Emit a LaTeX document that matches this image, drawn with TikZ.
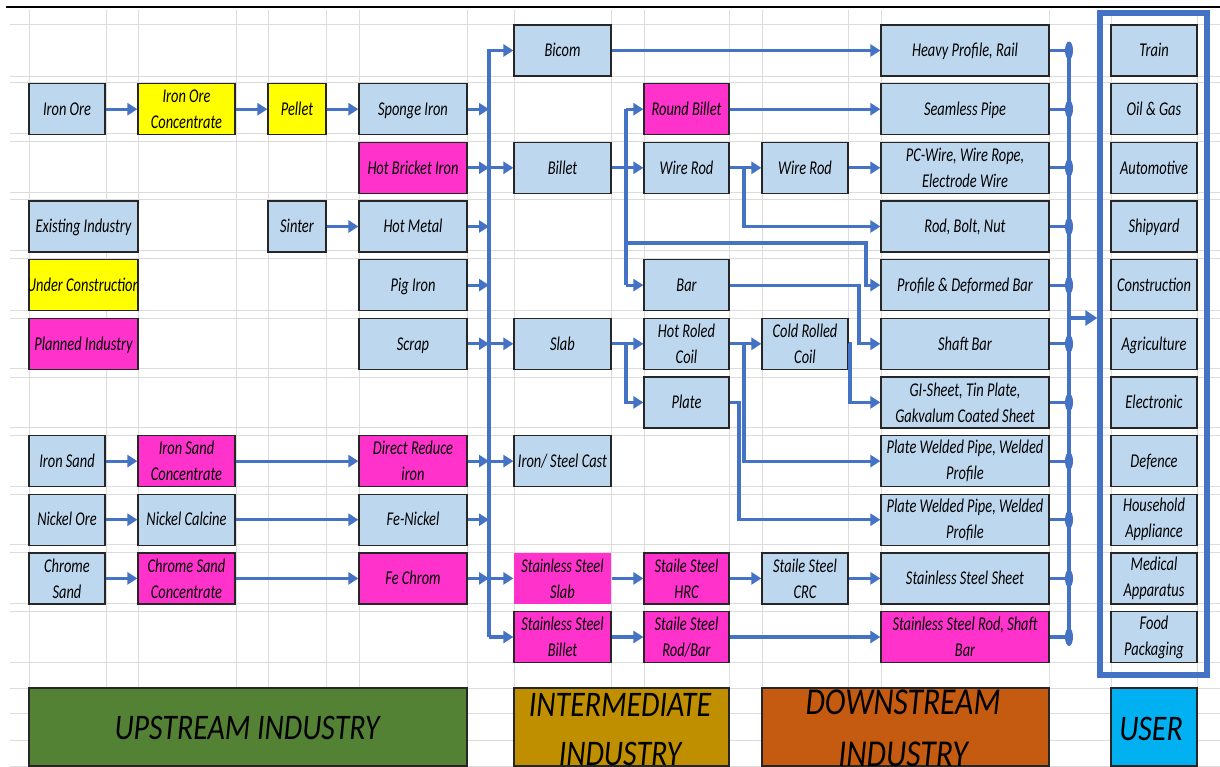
\documentclass[tikz,border=0pt]{standalone}
\usepackage{fontspec}
\usetikzlibrary{arrows.meta}
\newfontfamily\boxfont{Carlito}[FakeStretch=0.74]
\newfontfamily\bigfont{Carlito}[FakeStretch=0.83]
\definecolor{lbc}{HTML}{BDD7EE}
\definecolor{ylc}{HTML}{FFFF00}
\definecolor{mgc}{HTML}{FF33CC}
\definecolor{cbc}{HTML}{4472C4}
\definecolor{gridc}{HTML}{DCDCDC}
\definecolor{upc}{HTML}{548235}
\definecolor{imc}{HTML}{BF8F00}
\definecolor{dnc}{HTML}{C55A11}
\definecolor{usc}{HTML}{00B0F0}
\begin{document}
\begin{tikzpicture}[x=1pt,y=-1pt,
  gridline/.style={draw=gridc, line width=1pt},
  box/.style={draw=black!85, line width=1.2pt, minimum height=51pt, inner sep=1pt, align=center,
    font=\boxfont\itshape\fontsize{19.5pt}{26pt}\selectfont, text=black},
  one/.style={text height=12.5pt, text depth=0pt},
  bb/.style={box, fill=lbc},
  yb/.style={box, fill=ylc},
  mb/.style={box, fill=mgc},
  c1/.style={minimum width=76pt},
  cw/.style={minimum width=109pt},
  c2/.style={minimum width=97pt},
  c3/.style={minimum width=58pt},
  c4/.style={minimum width=108pt},
  c5/.style={minimum width=97pt},
  c6/.style={minimum width=85pt},
  c7/.style={minimum width=86pt},
  c8/.style={minimum width=168pt},
  c9/.style={minimum width=86pt},
  conn/.style={draw=cbc, line width=3.2pt},
  arr/.style={conn, -{Triangle[length=10pt,width=12pt]}},
  big/.style={font=\bigfont\itshape\fontsize{36pt}{48pt}\selectfont, inner sep=0pt, text=black},
  lab/.style={draw=black!85, line width=1.2pt, minimum height=78pt, inner sep=0pt}
]
\useasboundingbox (0,0) rectangle (1220,767);
\fill[white] (0,0) rectangle (1220,767);
% grid
\foreach \x in {29,106,138,236,268,326,359,467,514,611,644,729,762,848,881,1049,1111,1197}
  \draw[gridline] (\x,10) -- (\x,767);
\foreach \y in {25,77,83,134,142,193,200,251,259,310,318,368,377,427,435,486,494,544,552,603,611,662,688,713,740,766}
  \draw[gridline] (10,\y) -- (1220,\y);
\draw[line width=2pt] (6,7.5) -- (1220,7.5);

% upstream
\node[bb,c1,one] (ironore) at (67,109.2) {Iron Ore};
\node[yb,c2] (ioc) at (186.5,109.2) {Iron Ore\\Concentrate};
\node[yb,c3,one] (pellet) at (297,109.2) {Pellet};
\node[bb,c4,one] (sponge) at (413,109.2) {Sponge Iron};
\node[mb,c4,one] (hbi) at (413,167.8) {Hot Bricket Iron};
\node[bb,cw,one] (existing) at (83.5,226.5) {Existing Industry};
\node[bb,c3,one] (sinter) at (297,226.5) {Sinter};
\node[bb,c4,one] (hotmetal) at (413,226.5) {Hot Metal};
\node[yb,cw] (uc) at (83.5,285.1) {};
\begin{scope}
\clip (29.6,259.7) rectangle (137.4,310.5);
\node[box,draw=none,one] (uctext) at (83.5,285.1) {Under Construction};
\end{scope}
\node[bb,c4,one] (pig) at (413,285.1) {Pig Iron};
\node[mb,cw,one] (planned) at (83.5,343.8) {Planned Industry};
\node[bb,c4,one] (scrap) at (413,343.8) {Scrap};
\node[bb,c1,one] (ironsand) at (67,461.1) {Iron Sand};
\node[mb,c2] (isc) at (186.5,461.1) {Iron Sand\\Concentrate};
\node[mb,c4] (dri) at (413,461.1) {Direct Reduce\\iron};
\node[bb,c1,one] (nickelore) at (67,519.7) {Nickel Ore};
\node[bb,c2,one] (calcine) at (186.5,519.7) {Nickel Calcine};
\node[bb,c4,one] (fenickel) at (413,519.7) {Fe-Nickel};
\node[bb,c1] (chrome) at (67,578.4) {Chrome\\Sand};
\node[mb,c2] (csc) at (186.5,578.4) {Chrome Sand\\Concentrate};
\node[mb,c4,one] (fechrom) at (413,578.4) {Fe Chrom};

% intermediate
\node[bb,c5,one] (bicom) at (562.5,50.5) {Bicom};
\node[bb,c5,one] (billet) at (562.5,167.8) {Billet};
\node[bb,c5,one] (slab) at (562.5,343.8) {Slab};
\node[bb,c5,one] (cast) at (562.5,461.1) {Iron/ Steel Cast};
\node[mb,c5,draw=none] (ssslab) at (562.5,578.4) {Stainless Steel\\Slab};
\node[mb,c5] (ssbillet) at (562.5,637) {Stainless Steel\\Billet};
\node[mb,c6,one] (roundbillet) at (686.5,109.2) {Round Billet};
\node[bb,c6,one] (wirerod) at (686.5,167.8) {Wire Rod};
\node[bb,c6,one] (bar) at (686.5,285.1) {Bar};
\node[bb,c6] (hrc) at (686.5,343.8) {Hot Roled\\Coil};
\node[bb,c6,one] (plate) at (686.5,402.4) {Plate};
\node[mb,c6] (sshrc) at (686.5,578.4) {Staile Steel\\HRC};
\node[mb,c6] (ssrodbar) at (686.5,637) {Staile Steel\\Rod/Bar};
\node[bb,c7,one] (wirerod2) at (805,167.8) {Wire Rod};
\node[bb,c7] (crc) at (805,343.8) {Cold Rolled\\Coil};
\node[bb,c7] (sscrc) at (805,578.4) {Staile Steel\\CRC};

% downstream
\node[bb,c8,one] (heavy) at (965,50.5) {Heavy Profile, Rail};
\node[bb,c8,one] (seamless) at (965,109.2) {Seamless Pipe};
\node[bb,c8] (pcwire) at (965,167.8) {PC-Wire, Wire Rope,\\Electrode Wire};
\node[bb,c8,one] (rodbolt) at (965,226.5) {Rod, Bolt, Nut};
\node[bb,c8,one] (profile) at (965,285.1) {Profile \& Deformed Bar};
\node[bb,c8,one] (shaft) at (965,343.8) {Shaft Bar};
\node[bb,c8] (gisheet) at (965,402.4) {GI-Sheet, Tin Plate,\\Gakvalum Coated Sheet};
\node[bb,c8] (pwpa) at (965,461.1) {Plate Welded Pipe, Welded\\Profile};
\node[bb,c8] (pwpb) at (965,519.7) {Plate Welded Pipe, Welded\\Profile};
\node[bb,c8,one] (sssheet) at (965,578.4) {Stainless Steel Sheet};
\node[mb,c8] (ssrod) at (965,637) {Stainless Steel Rod, Shaft\\Bar};

% users
\node[bb,c9,one] (train) at (1154,50.5) {Train};
\node[bb,c9,one] (oilgas) at (1154,109.2) {Oil \& Gas};
\node[bb,c9,one] (auto) at (1154,167.8) {Automotive};
\node[bb,c9,one] (ship) at (1154,226.5) {Shipyard};
\node[bb,c9,one] (constr) at (1154,285.1) {Construction};
\node[bb,c9,one] (agri) at (1154,343.8) {Agriculture};
\node[bb,c9,one] (elec) at (1154,402.4) {Electronic};
\node[bb,c9,one] (defence) at (1154,461.1) {Defence};
\node[bb,c9] (house) at (1154,519.7) {Household\\Appliance};
\node[bb,c9] (med) at (1154,578.4) {Medical\\Apparatus};
\node[bb,c9] (food) at (1154,637) {Food\\Packaging};
\node[draw=cbc, line width=5.5pt, minimum width=107pt, minimum height=662pt, inner sep=0pt] (frame) at (1153.5,344) {};

% bottom labels
\node[lab, fill=upc, minimum width=438pt] (up) at (248,727) {};
\node[lab, fill=imc, minimum width=215pt] (im) at (621.5,727) {};
\node[lab, fill=dnc, minimum width=287pt] (dn) at (905.5,727) {};
\node[lab, fill=usc, minimum width=86pt] (us) at (1154,727) {};
\node[big, anchor=base] (uptext) at (247,739) {UPSTREAM INDUSTRY};
\begin{scope}
\clip (514.6,688.6) rectangle (728.4,766.4);
\node[big, anchor=base] (imtexta) at (620,716) {INTERMEDIATE};
\node[big, anchor=base] (imtextb) at (620,765) {INDUSTRY};
\end{scope}
\begin{scope}
\clip (762.6,688.6) rectangle (1048.4,766.4);
\node[big, anchor=base, font=\bigfont\itshape\fontsize{38pt}{48pt}\selectfont] (dntexta) at (903,714) {DOWNSTREAM};
\node[big, anchor=base, font=\bigfont\itshape\fontsize{38pt}{48pt}\selectfont] (dntextb) at (903,766) {INDUSTRY};
\end{scope}
\node[big, anchor=base] (ustext) at (1151,740) {USER};

% connectors upstream
\draw[arr] (ironore) -- (ioc);
\draw[arr] (ioc) -- (pellet);
\draw[arr] (pellet) -- (sponge);
\draw[arr] (sinter) -- (hotmetal);
\draw[arr] (ironsand) -- (isc);
\draw[arr] (isc) -- (dri);
\draw[arr] (nickelore) -- (calcine);
\draw[arr] (calcine) -- (fenickel);
\draw[arr] (chrome) -- (csc);
\draw[arr] (csc) -- (fechrom);

% bus 1
\coordinate (bA) at (489,0);
\foreach \n in {sponge,hbi,hotmetal,pig,scrap,dri,fenickel,fechrom}
  \draw[arr] (\n.east) -- (\n.east -| bA);
\draw[arr] (ssbillet.west -| bA) -- (bicom.west -| bA) -- (bicom.west);
\draw[arr] (ssbillet.west -| bA) -- (ssbillet.west);
\foreach \n in {billet,slab,cast,ssslab}
  \draw[arr] (\n.west -| bA) -- (\n.west);

% intermediate connectors
\coordinate (vA) at (626,0);
\coordinate (vB) at (744,0);
\coordinate (vC) at (859,0);
\coordinate (vD) at (850,0);
\coordinate (vE) at (739,0);
\coordinate (pA) at (626,243);
\coordinate (pB) at (866,243);
\draw[arr] (bicom) -- (heavy);
\draw[arr] (billet) -- (wirerod);
\draw[conn] (roundbillet.west -| vA) -- (bar.west -| vA);
\draw[arr] (roundbillet.west -| vA) -- (roundbillet.west);
\draw[arr] (bar.west -| vA) -- (bar.west);
\draw[arr] (pA) -- (pB) |- (profile.west);
\draw[arr] (roundbillet) -- (seamless);
\draw[arr] (wirerod) -- (wirerod2);
\draw[arr] (wirerod.east -| vB) |- (rodbolt.west);
\draw[arr] (wirerod2) -- (pcwire);
\draw[arr] (bar.east) -- (bar.east -| vC) |- (shaft.west);
\draw[arr] (slab) -- (hrc);
\draw[arr] (slab.east -| vA) |- (plate.west);
\draw[arr] (hrc) -- (crc);
\draw[arr] (hrc.east -| vB) |- (pwpa.west);
\draw[arr] (crc.east) -- (crc.east -| vD) |- (gisheet.west);
\draw[arr] (plate.east) -- (plate.east -| vE) |- (pwpb.west);
\draw[arr] (ssslab) -- (sshrc);
\draw[arr] (sshrc) -- (sscrc);
\draw[arr] (sscrc) -- (sssheet);
\draw[arr] (ssbillet) -- (ssrodbar);
\draw[arr] (ssrodbar) -- (ssrod);

% bus 2
\coordinate (bB) at (1069,0);
\draw[conn] (heavy.east -| bB) -- (ssrod.east -| bB);
\foreach \n in {heavy,seamless,pcwire,rodbolt,profile,shaft,gisheet,pwpa,pwpb,sssheet,ssrod}{
  \draw[conn] (\n.east) -- (\n.east -| bB);
  \fill[cbc] (\n.east -| bB) ellipse [x radius=4pt, y radius=9pt];
}
\coordinate (bM) at (1069,318);
\draw[conn, -{Triangle[length=12pt,width=15pt]}] (bM) -- (bM -| frame.west);
\end{tikzpicture}
\end{document}
